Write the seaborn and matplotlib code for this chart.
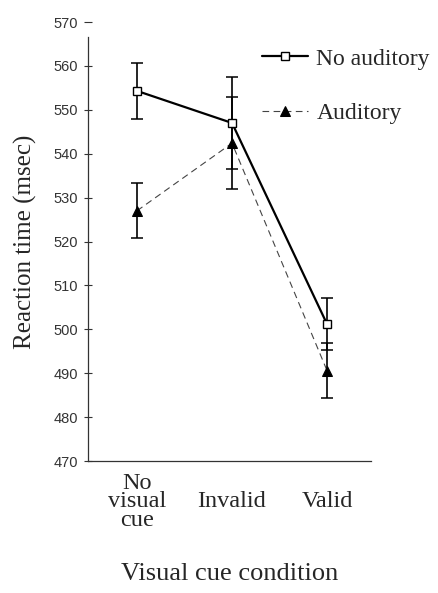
import matplotlib
matplotlib.use("Agg")
import matplotlib.pyplot as plt
import seaborn as sns
import pandas as pd

# ---- data ----
conditions = ["No\nvisual\ncue", "Invalid", "Valid"]
positions = [0, 1, 2]
no_aud = [554.3, 547.0, 501.2]
no_aud_err = [6.3, 10.4, 6.0]
aud = [527.0, 542.4, 490.6]
aud_err = [6.3, 10.5, 6.3]
series_names = ["No auditory", "Auditory"]
yticks = [470, 480, 490, 500, 510, 520, 530, 540, 550, 560, 570]

sns.set_theme(style="white")
plt.rcParams["font.family"] = ["Liberation Serif", "DejaVu Serif"]

fig = plt.figure(figsize=(4.39, 5.93), dpi=100)
ax = fig.add_axes([88 / 439, 1 - 461 / 593, (371 - 88) / 439, (461 - 22) / 593])

df = pd.DataFrame({
    "pos": positions * 2,
    "rt": no_aud + aud,
    "err": no_aud_err + aud_err,
    "group": [series_names[0]] * 3 + [series_names[1]] * 3,
})

d0 = df[df.group == series_names[0]]
d1 = df[df.group == series_names[1]]

# error bars
ax.errorbar(d0.pos, d0.rt, yerr=d0.err, fmt="none", ecolor="black",
            elinewidth=1.2, capsize=4, capthick=1.1, zorder=2)
ax.errorbar(d1.pos, d1.rt, yerr=d1.err, fmt="none", ecolor="black",
            elinewidth=1.2, capsize=4, capthick=1.1, zorder=2)

sns.lineplot(data=d1, x="pos", y="rt", ax=ax, color="#444444", lw=0.8,
             linestyle=(0, (6, 4)), marker="^", markersize=7,
             markerfacecolor="black", markeredgecolor="black",
             label=series_names[1], zorder=3)
sns.lineplot(data=d0, x="pos", y="rt", ax=ax, color="black", lw=1.6,
             marker="s", markersize=5.5, markerfacecolor="white",
             markeredgecolor="black", markeredgewidth=1.0,
             label=series_names[0], zorder=4)

ax.set_xlim(-0.516, 2.463)
ax.set_ylim(470, 570)
ax.set_yticks(yticks)
ax.set_yticklabels([str(v) for v in yticks], family="Liberation Sans",
                   fontsize=10.5, color="#333333")
ax.set_xticks(positions)
ax.set_xticklabels(conditions, fontsize=17.5, linespacing=0.85, va="center")
ax.tick_params(axis="x", length=0, pad=29.5)
ax.set_xticks([1.46], minor=True)
ax.tick_params(axis="x", which="minor", direction="inout", length=6,
               width=0.8, color="#333333")
ax.tick_params(axis="y", direction="inout", length=6, width=0.8,
               color="#333333", pad=4, left=True)

for s in ["top", "right"]:
    ax.spines[s].set_visible(False)
for s in ["left", "bottom"]:
    ax.spines[s].set_color("#333333")
    ax.spines[s].set_linewidth(0.9)
ax.spines["left"].set_bounds(470, 566.5)

ax.set_xlabel("Visual cue condition", fontsize=19, labelpad=23)
ax.set_ylabel("Reaction time (msec)", fontsize=18, labelpad=12)

h, l = ax.get_legend_handles_labels()
order = [l.index(series_names[0]), l.index(series_names[1])]
ax.legend([h[i] for i in order], [l[i] for i in order],
          loc="upper left", bbox_to_anchor=(262 / 439, 1 - 48 / 593),
          bbox_transform=fig.transFigure, frameon=False, fontsize=17,
          handlelength=1.95, handletextpad=0.35, labelspacing=1.4,
          borderpad=0, borderaxespad=0)

fig.savefig("out.png", dpi=100)
